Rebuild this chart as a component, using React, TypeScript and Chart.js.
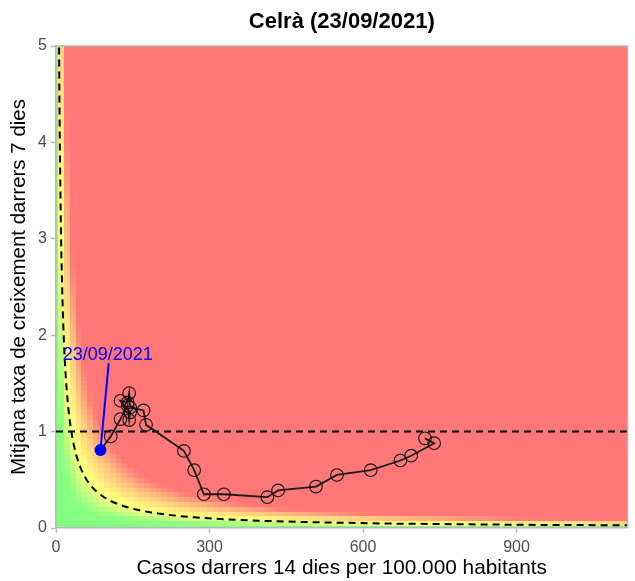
import React, { useEffect, useRef } from "react";
import { Chart, registerables } from "chart.js";

Chart.register(...registerables);

const TITLE = "Celrà (23/09/2021)";
const X_TITLE = "Casos darrers 14 dies per 100.000 habitants";
const Y_TITLE = "Mitjana taxa de creixement darrers 7 dies";
const X_TICKS = [0, 300, 600, 900];
const Y_TICKS = [0, 1, 2, 3, 4, 5];
const X_MAX = 1117;
const Y_MAX = 5;

// trajectory (oldest -> newest)
const CASES = [721, 739, 694, 673, 615, 549, 508, 434, 413, 328, 289, 270, 250, 176, 171, 145, 143, 140, 126, 145, 143, 140, 126, 107, 87];
const GROWTH = [0.93, 0.88, 0.75, 0.7, 0.6, 0.55, 0.43, 0.39, 0.32, 0.35, 0.35, 0.6, 0.8, 1.07, 1.22, 1.25, 1.4, 1.3, 1.32, 1.2, 1.12, 1.27, 1.13, 0.95, 0.81];

const LAST_LABEL = "23/09/2021";
const LABEL_POS = [101, 1.79];
const LABEL_LINE_END = [103, 1.71];

const EPG_THRESHOLD = 30;
const HORIZONTAL_REF = 1;
const HEAT_COLS = 100;
const HEAT_ROWS = 100;
const COLOR_STOPS = [0, 12, 25, 36, 55, 75, 90, 100];
const COLOR_VALUES = [
  [128, 255, 128],
  [140, 255, 128],
  [215, 255, 128],
  [255, 255, 128],
  [255, 215, 128],
  [255, 168, 123],
  [255, 127, 119],
  [255, 119, 119],
];

const FONT = "'Liberation Sans', Arial, Helvetica, sans-serif";
const AXIS_GREY = "#b8b8b8";

function heatColor(p: number): string {
  if (p <= COLOR_STOPS[0]) return `rgb(${COLOR_VALUES[0].join(",")})`;
  for (let k = 1; k < COLOR_STOPS.length; k++) {
    if (p <= COLOR_STOPS[k]) {
      const t = (p - COLOR_STOPS[k - 1]) / (COLOR_STOPS[k] - COLOR_STOPS[k - 1]);
      const a = COLOR_VALUES[k - 1];
      const b = COLOR_VALUES[k];
      const c = a.map((v, i) => Math.round(v + (b[i] - v) * t));
      return `rgb(${c.join(",")})`;
    }
  }
  return `rgb(${COLOR_VALUES[COLOR_VALUES.length - 1].join(",")})`;
}

const heatPlugin = {
  id: "heat",
  beforeDraw(chart: any) {
    const { ctx, chartArea, scales } = chart;
    const xs = scales.x;
    const ys = scales.y;
    ctx.save();
    ctx.fillStyle = "#ffffff";
    ctx.fillRect(0, 0, chart.width, chart.height);
    ctx.beginPath();
    ctx.rect(chartArea.left, chartArea.top, chartArea.right - chartArea.left, chartArea.bottom - chartArea.top);
    ctx.clip();
    const dx = X_MAX / HEAT_COLS;
    const dy = Y_MAX / HEAT_ROWS;
    for (let i = 0; i <= HEAT_COLS; i++) {
      const cx = i * dx;
      const px0 = Math.floor(xs.getPixelForValue(cx - dx / 2));
      const px1 = Math.ceil(xs.getPixelForValue(cx + dx / 2));
      for (let j = 0; j <= HEAT_ROWS; j++) {
        const cy = j * dy;
        const py0 = Math.floor(ys.getPixelForValue(cy + dy / 2));
        const py1 = Math.ceil(ys.getPixelForValue(cy - dy / 2));
        ctx.fillStyle = heatColor(cx * cy);
        ctx.fillRect(px0, py0, px1 - px0, py1 - py0);
      }
    }
    ctx.restore();
  },
  afterDraw(chart: any) {
    const { ctx, chartArea } = chart;
    ctx.save();
    ctx.strokeStyle = AXIS_GREY;
    ctx.lineWidth = 1.5;
    ctx.beginPath();
    ctx.moveTo(chartArea.left, chartArea.top);
    ctx.lineTo(chartArea.right, chartArea.top);
    ctx.lineTo(chartArea.right, chartArea.bottom);
    ctx.stroke();
    ctx.fillStyle = "#000000";
    ctx.font = `bold 22px ${FONT}`;
    ctx.textAlign = "center";
    ctx.textBaseline = "middle";
    ctx.fillText(TITLE, (chartArea.left + chartArea.right) / 2, 22);
    ctx.restore();
  },
  afterDatasetsDraw(chart: any) {
    const { ctx, scales } = chart;
    ctx.save();
    ctx.fillStyle = "#0000ff";
    ctx.font = `18px ${FONT}`;
    ctx.textAlign = "center";
    ctx.textBaseline = "middle";
    ctx.fillText(LAST_LABEL, scales.x.getPixelForValue(LABEL_POS[0]), scales.y.getPixelForValue(LABEL_POS[1]));
    ctx.restore();
  },
};

export default function App() {
  const ref = useRef<HTMLCanvasElement | null>(null);
  useEffect(() => {
    if (!ref.current) return;
    const n = CASES.length;
    const traj = CASES.map((c, i) => ({ x: c, y: GROWTH[i] }));
    const curve: { x: number; y: number }[] = [];
    for (let k = 0; k <= 400; k++) {
      const yv = 0.02 + (k / 400) * (Y_MAX + 0.2);
      curve.push({ x: EPG_THRESHOLD / yv, y: yv });
    }
    const chart = new Chart(ref.current, {
      type: "scatter",
      data: {
        datasets: [
          {
            label: "traj",
            data: traj,
            showLine: true,
            borderColor: "#1a1a1a",
            borderWidth: 1.8,
            pointRadius: (c: any) => (c.dataIndex === n - 1 ? 0 : 6.3),
            pointBorderWidth: 1.1,
            pointBorderColor: "#111111",
            pointBackgroundColor: "rgba(0,0,0,0)",
            order: 2,
          } as any,
          {
            label: "last",
            data: [traj[n - 1]],
            pointRadius: 6,
            pointBackgroundColor: "#0000ff",
            pointBorderColor: "#0000ff",
            pointBorderWidth: 0,
            order: 1,
          },
          {
            label: "labelLine",
            data: [traj[n - 1], { x: LABEL_LINE_END[0], y: LABEL_LINE_END[1] }],
            showLine: true,
            borderColor: "#0000ff",
            borderWidth: 2,
            pointRadius: 0,
            order: 3,
          } as any,
          {
            label: "ref1",
            data: [
              { x: 0, y: HORIZONTAL_REF },
              { x: X_MAX, y: HORIZONTAL_REF },
            ],
            showLine: true,
            borderColor: "#000000",
            borderWidth: 2,
            borderDash: [7, 5],
            pointRadius: 0,
            order: 4,
          } as any,
          {
            label: "epg",
            data: curve,
            showLine: true,
            borderColor: "#000000",
            borderWidth: 2,
            borderDash: [7, 5],
            pointRadius: 0,
            order: 5,
          } as any,
        ],
      },
      options: {
        animation: false,
        responsive: false,
        devicePixelRatio: 1,
        layout: { padding: { left: 0, right: 3, top: 46, bottom: 0 } },
        plugins: {
          legend: { display: false },
          tooltip: { enabled: false },
          title: { display: false },
        },
        scales: {
          x: {
            type: "linear",
            min: 0,
            max: X_MAX,
            afterBuildTicks: (s: any) => {
              s.ticks = X_TICKS.map((v) => ({ value: v }));
            },
            afterFit: (s: any) => {
              s.height = 53;
            },
            ticks: { color: "#4d4d4d", font: { family: FONT, size: 16 }, padding: 5 },
            grid: { drawOnChartArea: false, color: AXIS_GREY, tickLength: 5, tickWidth: 1.5 },
            border: { color: AXIS_GREY, width: 1.5 },
            title: {
              display: true,
              text: X_TITLE,
              color: "#000000",
              font: { family: FONT, size: 20.8 },
              padding: { top: 0, bottom: 0 },
            },
          },
          y: {
            type: "linear",
            min: 0,
            max: Y_MAX,
            afterBuildTicks: (s: any) => {
              s.ticks = Y_TICKS.map((v) => ({ value: v }));
            },
            afterFit: (s: any) => {
              s.width = 56;
            },
            ticks: { color: "#4d4d4d", font: { family: FONT, size: 16 }, padding: 4 },
            grid: { drawOnChartArea: false, color: AXIS_GREY, tickLength: 5, tickWidth: 1.5 },
            border: { color: AXIS_GREY, width: 1.5 },
            title: {
              display: true,
              text: Y_TITLE,
              color: "#000000",
              font: { family: FONT, size: 20.5 },
              padding: { top: 7, bottom: 0 },
            },
          },
        },
      } as any,
      plugins: [heatPlugin],
    });
    return () => chart.destroy();
  }, []);
  return (
    <div style={{ position: "absolute", left: 0, top: 0, width: 635, height: 581 }}>
      <canvas ref={ref} width={635} height={581} style={{ width: 635, height: 581, display: "block" }} />
    </div>
  );
}
